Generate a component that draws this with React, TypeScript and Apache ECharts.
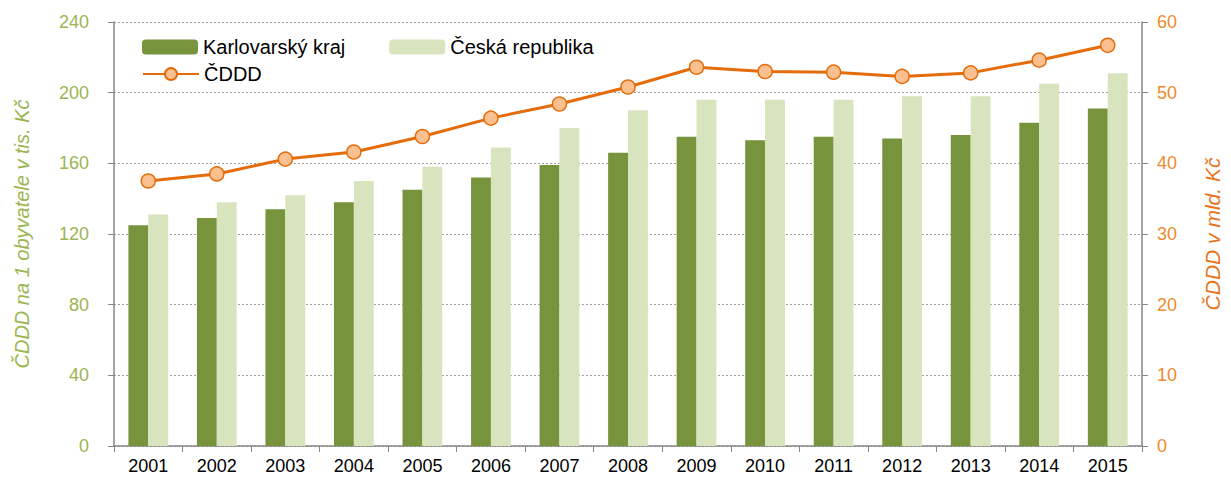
import React, { useEffect, useRef } from "react";
import * as echarts from "echarts";

const years = ["2001","2002","2003","2004","2005","2006","2007","2008","2009","2010","2011","2012","2013","2014","2015"];
const karlovarsky = [125, 129, 134, 138, 145, 152, 159, 166, 175, 173, 175, 174, 176, 183, 191];
const ceskaRepublika = [131, 138, 142, 150, 158, 169, 180, 190, 196, 196, 196, 198, 198, 205, 211];
const cddd = [37.5, 38.5, 40.6, 41.6, 43.8, 46.4, 48.4, 50.8, 53.6, 53.0, 52.9, 52.3, 52.8, 54.6, 56.7];

const FONT = "'Liberation Sans', Arial, sans-serif";

export default function App() {
  const ref = useRef<HTMLDivElement>(null);
  useEffect(() => {
    if (!ref.current) return;
    const chart = echarts.init(ref.current, null, { renderer: "svg" });
    chart.setOption({
      animation: false,
      textStyle: { fontFamily: FONT },
      grid: { left: 114, right: 85, top: 22, bottom: 35 },
      legend: [
        {
          data: ["Karlovarský kraj", "Česká republika"],
          left: 137,
          top: 32,
          itemWidth: 56,
          itemHeight: 15,
          itemGap: 44,
          textStyle: { fontSize: 20, color: "#000", fontFamily: FONT },
        },
        {
          data: ["ČDDD"],
          left: 137,
          top: 59,
          itemWidth: 56,
          itemHeight: 15,
          textStyle: { fontSize: 20, color: "#000", fontFamily: FONT },
        },
      ],
      xAxis: {
        type: "category",
        data: years,
        axisLine: { lineStyle: { color: "#868686", width: 1.5 } },
        axisTick: { show: true, length: 6, lineStyle: { color: "#868686" } },
        axisLabel: { color: "#000", fontSize: 18, margin: 10, lineHeight: 20, fontFamily: FONT },
      },
      yAxis: [
        {
          type: "value",
          min: 0,
          max: 240,
          interval: 40,
          name: "ČDDD na 1 obyvatele v tis. Kč",
          nameLocation: "middle",
          nameGap: 82,
          nameTextStyle: { color: "#9BB550", fontStyle: "italic", fontSize: 20, fontFamily: FONT },
          axisLine: { show: true, lineStyle: { color: "#868686", width: 1.5 } },
          axisTick: { show: true, length: 6, lineStyle: { color: "#868686" } },
          axisLabel: { color: "#9BB550", fontSize: 18, margin: 25, fontFamily: FONT },
          splitLine: { show: true, lineStyle: { color: "#A0A0A0", type: [2, 2], width: 1 } },
        },
        {
          type: "value",
          min: 0,
          max: 60,
          interval: 10,
          position: "right",
          name: "ČDDD v mld. Kč",
          nameLocation: "middle",
          nameGap: 60,
          nameRotate: 90,
          nameTextStyle: { color: "#E8731A", fontStyle: "italic", fontSize: 21, fontFamily: FONT },
          axisLine: { show: true, lineStyle: { color: "#868686", width: 1.5 } },
          axisTick: { show: true, length: 6, lineStyle: { color: "#868686" } },
          axisLabel: { color: "#F08A2A", fontSize: 18, margin: 15, fontFamily: FONT },
          splitLine: { show: false },
        },
      ],
      series: [
        {
          name: "Karlovarský kraj",
          type: "bar",
          data: karlovarsky,
          barWidth: "29%",
          barGap: "0%",
          itemStyle: { color: "#77933C" },
        },
        {
          name: "Česká republika",
          type: "bar",
          data: ceskaRepublika,
          barWidth: "29%",
          barGap: "0%",
          itemStyle: { color: "#D7E4BD" },
        },
        {
          name: "ČDDD",
          type: "line",
          yAxisIndex: 1,
          data: cddd,
          symbol: "circle",
          symbolSize: 14,
          lineStyle: { color: "#E46C0A", width: 3 },
          itemStyle: { color: "#FAC090", borderColor: "#E46C0A", borderWidth: 1.5 },
        },
      ],
    });
    return () => chart.dispose();
  }, []);
  return <div ref={ref} style={{ width: 1231, height: 481, margin: -8 }} />;
}
